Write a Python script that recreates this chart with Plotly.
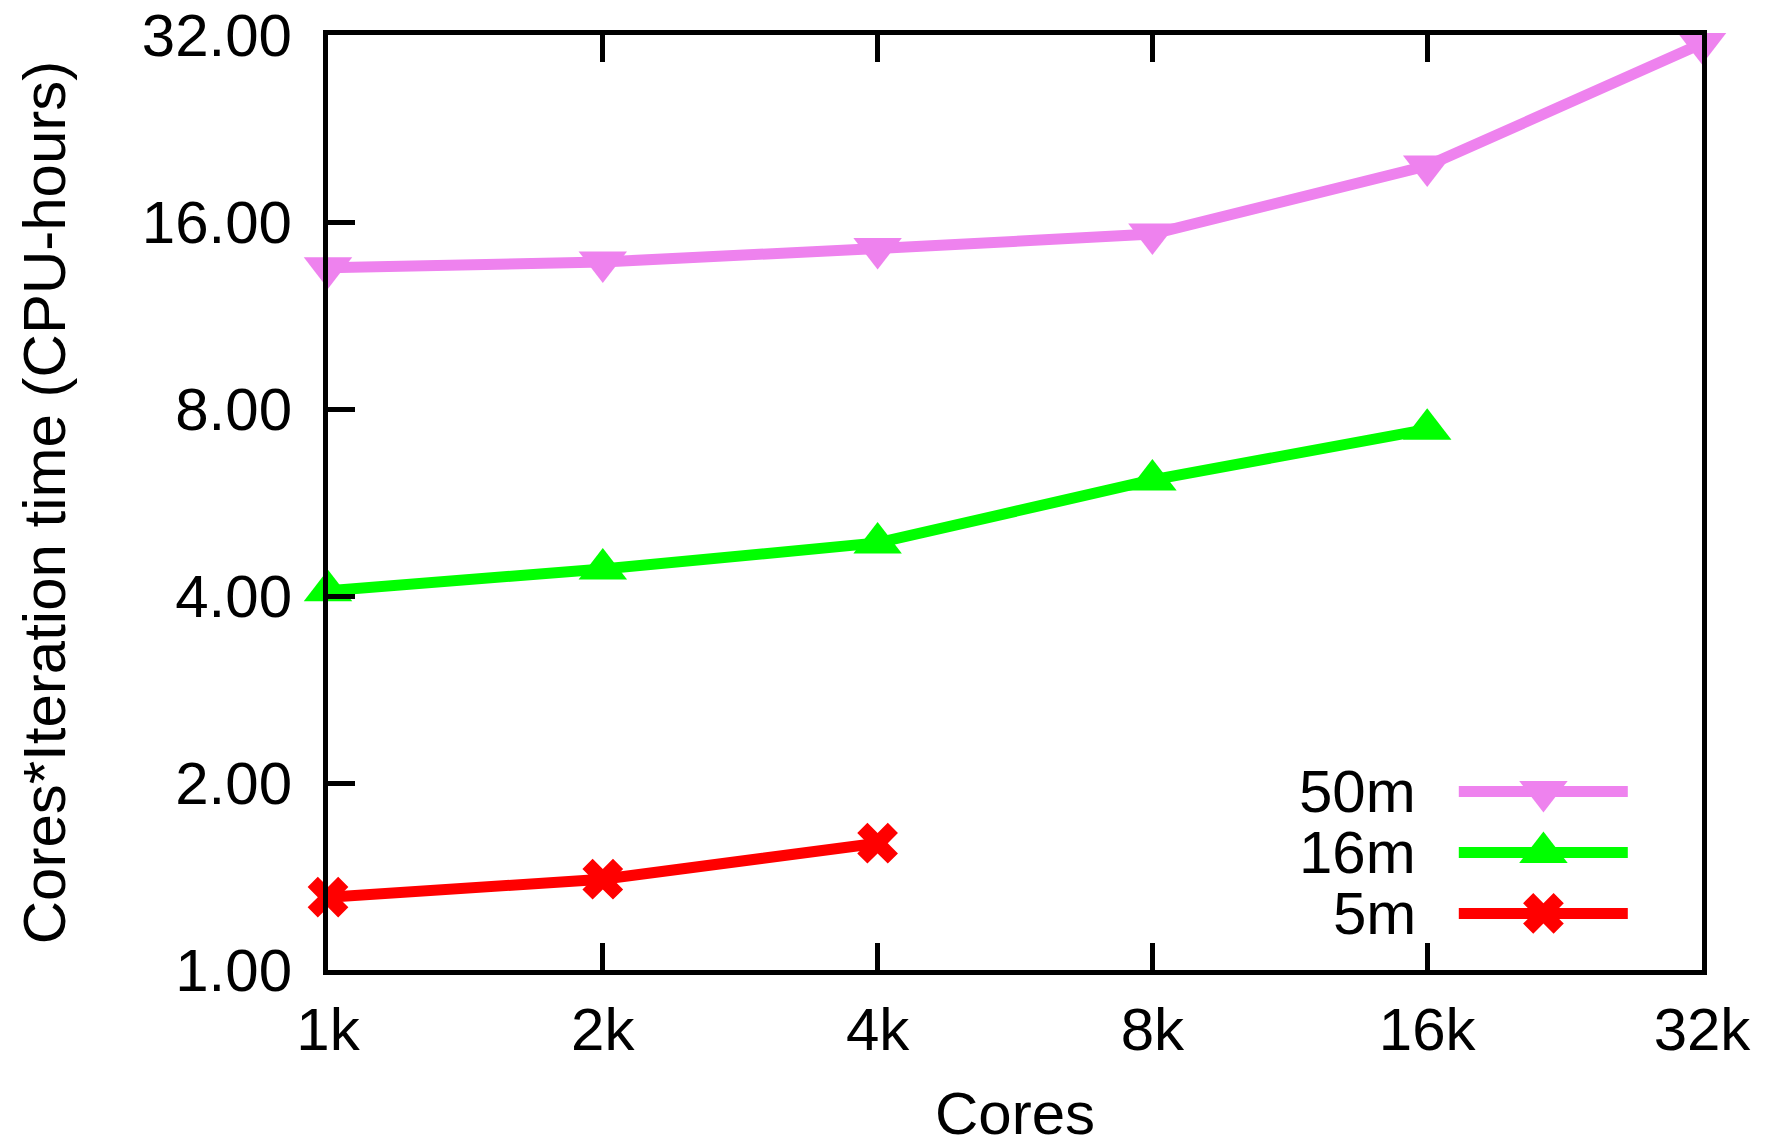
import plotly.graph_objects as go

# ---- data ----
cores = [1, 2, 4, 8, 16, 32]          # thousands of cores
core_labels = ["1k", "2k", "4k", "8k", "16k", "32k"]
y_ticks = [1, 2, 4, 8, 16, 32]
y_labels = ["1.00", "2.00", "4.00", "8.00", "16.00", "32.00"]

s50m = [13.5, 13.8, 14.5, 15.3, 19.7, 31.0]
s16m = [4.08, 4.42, 4.87, 6.15, 7.42]
s5m = [1.31, 1.40, 1.60]

names = ["50m", "16m", "5m"]
series = [s50m, s16m, s5m]
colors = ["#EE82EE", "#00FF00", "#FF0000"]
symbols = ["triangle-down", "triangle-up", "x"]
msizes = [42, 42, 36]

FONT = "Liberation Sans, Arial, Helvetica, sans-serif"
FS = 60

fig = go.Figure()
for name, ys, col, sym, ms in zip(names, series, colors, symbols, msizes):
    fig.add_trace(go.Scatter(
        x=cores[:len(ys)], y=ys, mode="lines+markers", name=name,
        line=dict(color=col, width=11),
        marker=dict(symbol=sym, size=ms, color=col, opacity=1, line=dict(width=0)),
        cliponaxis=False, showlegend=False,
    ))

# manual gnuplot-style key (text left of sample), drawn on an overlay axis in [0,1]
key_x = [0.823, 0.8846, 0.946]
key_y = [0.1910, 0.1257, 0.0605]
for name, col, sym, ms, ky in zip(names, colors, symbols, msizes, key_y):
    fig.add_trace(go.Scatter(
        x=key_x, y=[ky] * 3, xaxis="x2", yaxis="y2", mode="lines+markers",
        line=dict(color=col, width=11),
        marker=dict(symbol=sym, size=[0, ms, 0], color=col, opacity=1, line=dict(width=0)),
        showlegend=False, hoverinfo="skip", cliponaxis=False,
    ))
    fig.add_annotation(x=0.7926, y=ky, xref="paper", yref="paper", text=name,
                       showarrow=False, xanchor="right", yanchor="middle",
                       height=56, valign="middle", borderpad=0,
                       font=dict(family=FONT, size=FS, color="black"))

fig.update_layout(
    width=1773, height=1147,
    margin=dict(l=328, r=71, t=35, b=177, autoexpand=False),
    paper_bgcolor="white", plot_bgcolor="white",
    font=dict(family=FONT, size=FS, color="black"),
    showlegend=False,
    xaxis=dict(
        type="log", range=[0, 1.50515], tickvals=cores, ticktext=core_labels,
        ticks="inside", ticklen=27, tickwidth=5, tickcolor="black",
        showline=True, linewidth=5, linecolor="black", mirror="ticks",
        showgrid=False, zeroline=False, ticklabelstandoff=3, automargin=False,
        title=dict(text="Cores", font=dict(family=FONT, size=FS), standoff=47),
    ),
    yaxis=dict(
        type="log", range=[0, 1.50515], tickvals=y_ticks, ticktext=y_labels,
        ticks="inside", ticklen=27, tickwidth=5, tickcolor="black",
        showline=True, linewidth=5, linecolor="black", mirror=True,
        showgrid=False, zeroline=False, ticklabelstandoff=19, automargin=False,
        title=dict(text="Cores*Iteration time (CPU-hours)", font=dict(family=FONT, size=FS), standoff=58),
    ),
    xaxis2=dict(overlaying="x", range=[0, 1], visible=False, anchor="y2"),
    yaxis2=dict(overlaying="y", range=[0, 1], visible=False, anchor="x2"),
)

fig.write_html("out.html")
